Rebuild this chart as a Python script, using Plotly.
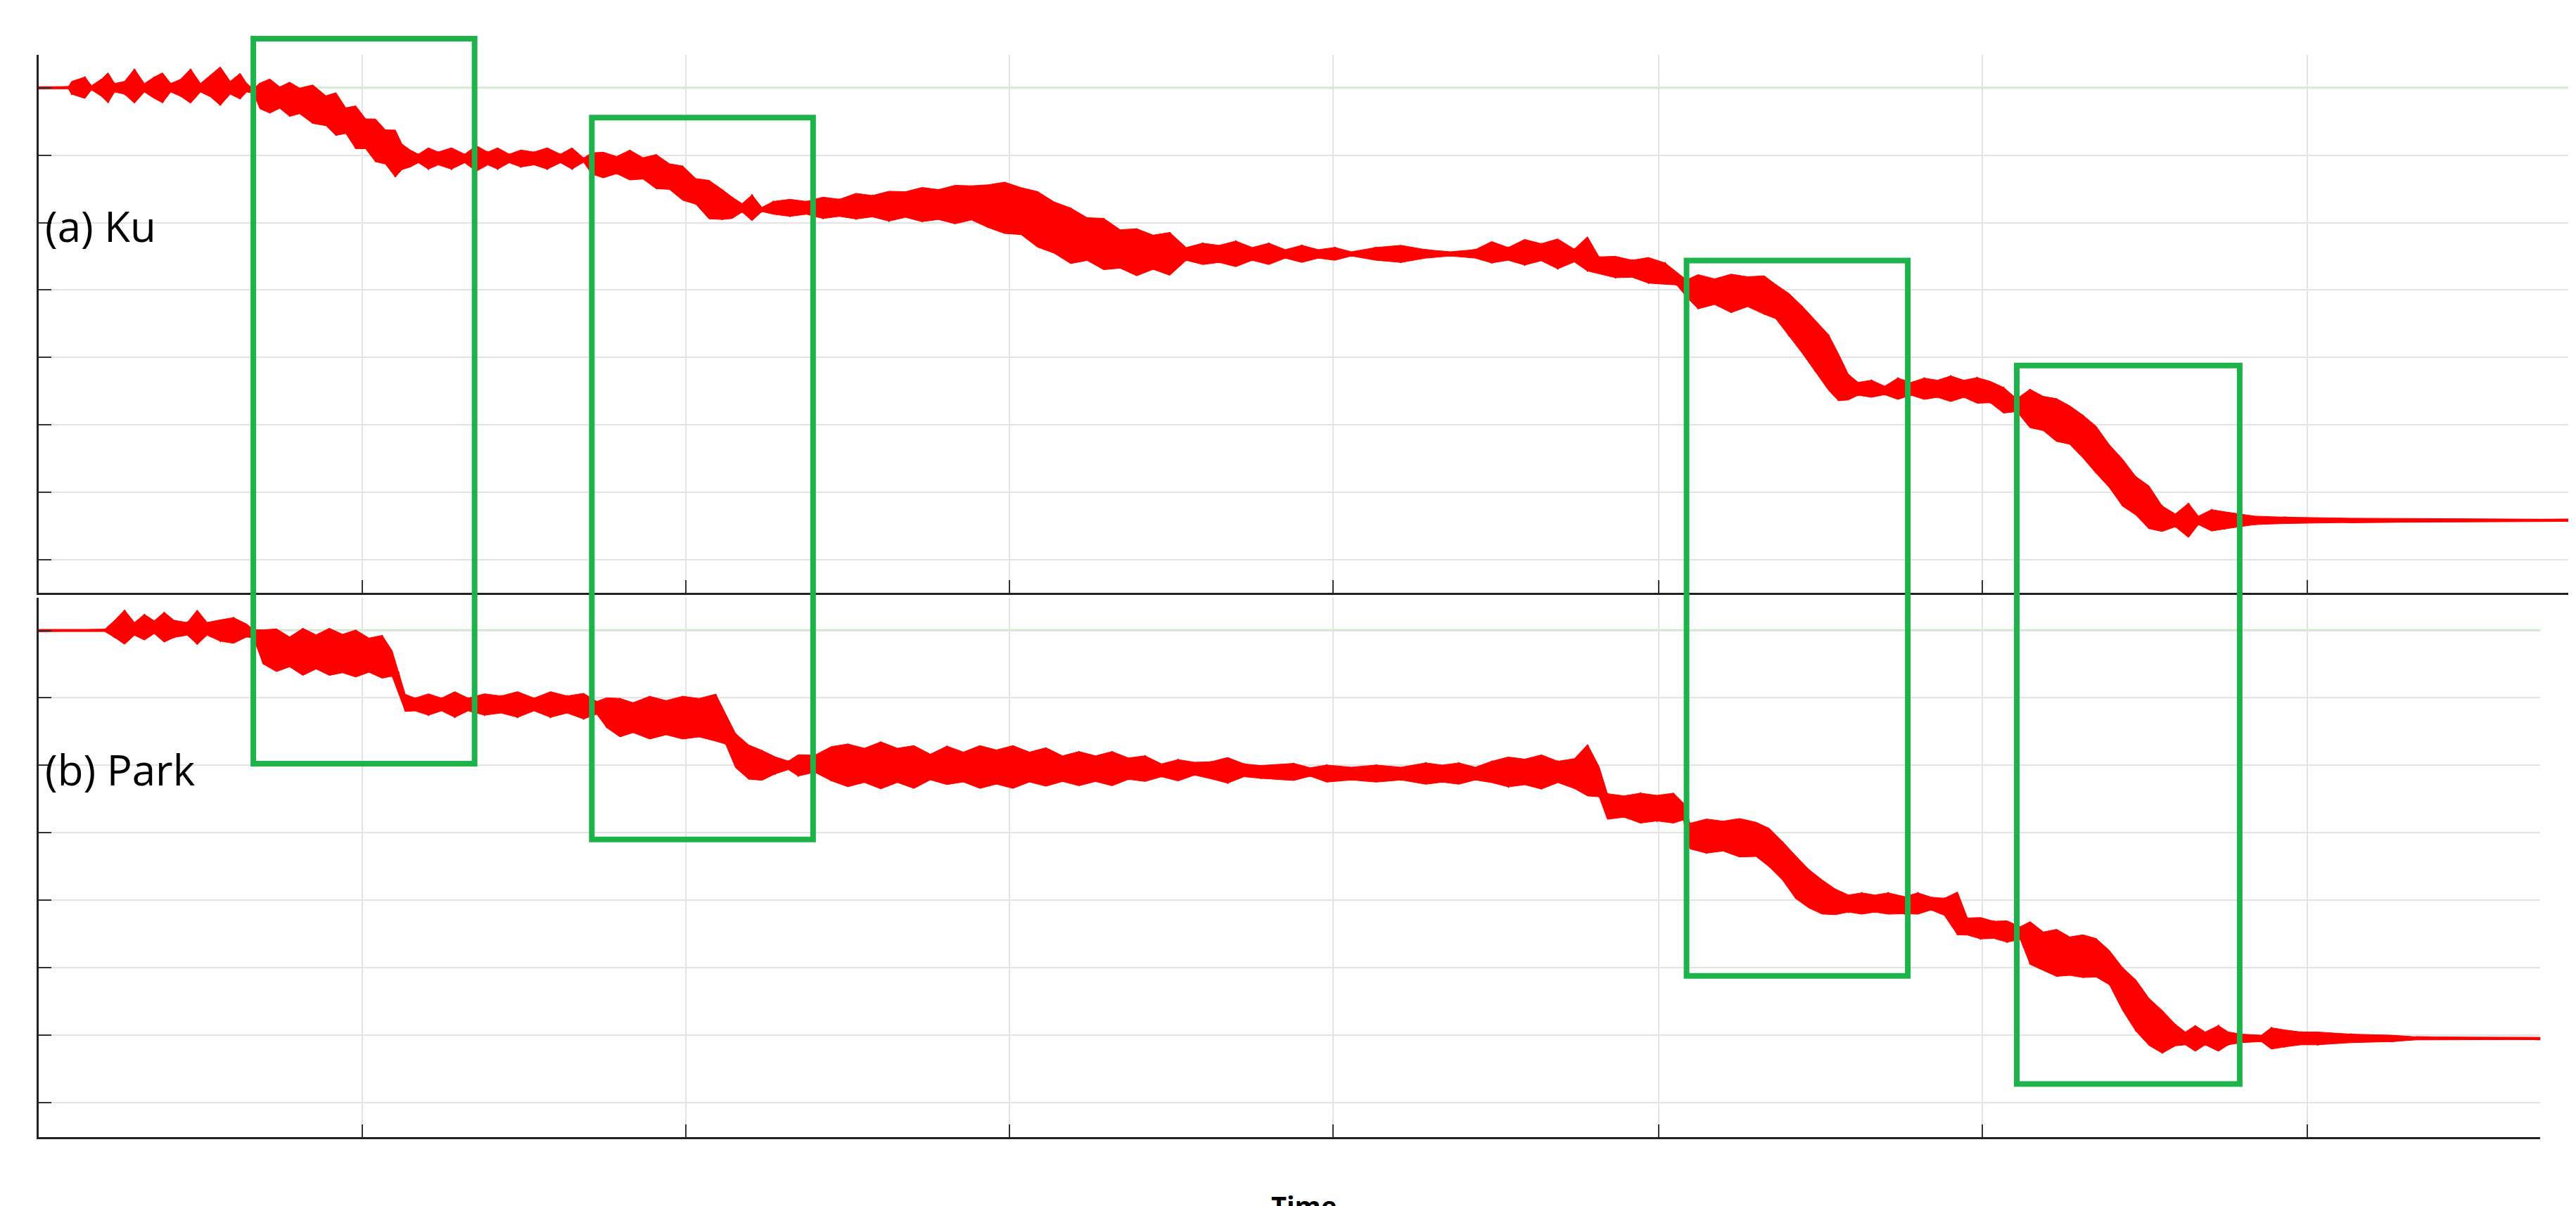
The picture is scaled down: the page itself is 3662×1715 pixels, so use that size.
import plotly.graph_objects as go

# Ku signal: time, centre level, oscillation half-amplitude (arbitrary units)
ku_t = [0, 18, 20, 28, 32, 38, 42, 46, 52, 58,
        64, 70, 75, 80, 86, 92, 98, 104, 110, 116,
        122, 126, 130, 134, 140, 146, 152, 158, 166, 174,
        180, 186, 192, 198, 204, 210, 216, 220, 225, 230,
        236, 242, 250, 258, 265, 272, 278, 285, 292, 300,
        308, 316, 323, 330, 335, 342, 350, 358, 366, 374,
        382, 390, 398, 406, 414, 420, 426, 432, 438, 445,
        455, 465, 475, 485, 495, 505, 515, 525, 535, 545,
        555, 565, 575, 585, 595, 605, 615, 625, 635, 645,
        655, 665, 675, 685, 695, 705, 715, 725, 735, 745,
        755, 765, 775, 785, 795, 810, 825, 840, 855, 870,
        880, 890, 900, 910, 920, 930, 938, 945, 955, 965,
        975, 985, 992, 998, 1005, 1015, 1025, 1035, 1045, 1052,
        1060, 1068, 1076, 1084, 1090, 1096, 1102, 1110, 1118, 1126,
        1134, 1142, 1150, 1158, 1166, 1174, 1182, 1190, 1198, 1206,
        1214, 1222, 1230, 1238, 1246, 1254, 1262, 1270, 1278, 1286,
        1294, 1302, 1308, 1316, 1324, 1332, 1342, 1360, 1400, 1532]
ku_c = [287, 287, 287, 287, 287, 287, 287, 287, 287, 288,
        287, 287, 287, 287, 287, 288, 287, 288, 288, 287,
        288, 287, 285, 282, 282, 281, 280, 279, 277, 273,
        271, 267, 263, 259, 255, 251, 247, 245, 244, 244,
        244, 244, 244, 244, 244, 244, 244, 244, 244, 244,
        244, 244, 244, 243, 241, 240, 240, 240, 238, 236,
        233, 229, 224, 219, 216, 214, 214, 214, 213, 214,
        214, 214, 214, 214, 215, 215, 215, 216, 216, 216,
        216, 217, 215, 214, 212, 207, 202, 197, 195, 192,
        189, 187, 187, 186, 186, 186, 186, 186, 186, 186,
        186, 186, 186, 186, 186, 186, 186, 186, 186, 186,
        187, 186, 187, 187, 186, 185, 186, 179, 178, 177,
        176, 174, 171, 165, 163, 163, 162, 163, 161, 157,
        149, 140, 130, 120, 111, 105, 104, 104, 103, 104,
        104, 104, 104, 104, 104, 103, 102, 97, 94, 92,
        89, 85, 82, 75, 67, 57, 47, 39, 32, 25,
        24, 24, 24, 24, 24, 24, 24, 24, 24, 24]
ku_a = [0.5, 0.5, 3, 5, 1, 4, 7, 2, 3, 8,
        2, 5, 7, 2, 4, 8, 2, 5, 9, 3,
        6, 2, 1, 6, 8, 5, 8, 6, 9, 7,
        10, 6, 10, 7, 10, 8, 11, 6, 4, 2,
        5, 3, 5, 2, 6, 3, 5, 2, 4, 3,
        5, 2, 5, 1, 5, 6, 4, 7, 5, 8,
        6, 8, 6, 9, 7, 5, 2, 6, 1, 3,
        4, 3, 5, 4, 6, 5, 7, 6, 8, 7,
        9, 8, 10, 12, 11, 13, 12, 13, 10, 12,
        9, 11, 8, 10, 3, 5, 4, 6, 3, 5,
        2, 4, 2, 3, 1, 3, 4, 2, 1, 2,
        5, 3, 6, 4, 7, 3, 8, 4, 5, 4,
        6, 5, 3, 4, 8, 6, 9, 7, 9, 8,
        10, 11, 12, 13, 11, 6, 3, 4, 2, 5,
        3, 5, 4, 6, 4, 6, 5, 6, 3, 9,
        8, 10, 9, 10, 11, 10, 11, 9, 10, 6,
        3, 8, 2, 5, 4, 3, 2, 1.5, 1, 0.5]

# Park signal
pk_t = [0, 40, 46, 52, 58, 64, 70, 76, 82, 90,
        96, 102, 110, 118, 126, 130, 136, 144, 152, 160,
        168, 176, 184, 192, 200, 208, 214, 218, 222, 228,
        236, 244, 252, 260, 270, 280, 290, 300, 310, 320,
        330, 338, 344, 352, 360, 370, 380, 390, 400, 410,
        416, 422, 430, 438, 446, 454, 460, 470, 480, 490,
        500, 510, 520, 530, 540, 550, 560, 570, 580, 590,
        600, 610, 620, 630, 640, 650, 660, 670, 680, 690,
        700, 710, 720, 730, 740, 760, 770, 780, 795, 810,
        825, 840, 850, 860, 870, 880, 890, 900, 910, 920,
        930, 938, 945, 950, 960, 970, 980, 990, 996, 1000,
        1010, 1020, 1030, 1040, 1048, 1056, 1064, 1072, 1080, 1088,
        1096, 1104, 1112, 1120, 1130, 1138, 1146, 1154, 1162, 1168,
        1176, 1184, 1192, 1200, 1206, 1214, 1222, 1230, 1238, 1246,
        1254, 1262, 1270, 1278, 1286, 1294, 1300, 1306, 1312, 1320,
        1326, 1334, 1346, 1352, 1360, 1370, 1380, 1400, 1425, 1440,
        1515]
pk_c = [287, 287, 288, 289, 288, 289, 289, 289, 288, 288,
        289, 288, 287, 287, 287, 285, 277, 275, 274, 274,
        274, 274, 273, 273, 272, 271, 267, 255, 243, 242,
        242, 242, 242, 242, 242, 242, 242, 242, 242, 242,
        241, 240, 237, 234, 234, 234, 234, 234, 234, 234,
        227, 214, 207, 205, 205, 205, 205, 206, 206, 205,
        205, 205, 205, 204, 204, 205, 204, 204, 204, 204,
        204, 204, 203, 203, 203, 203, 203, 203, 202, 202,
        203, 202, 202, 202, 201, 201, 201, 200, 200, 200,
        200, 200, 200, 200, 200, 201, 201, 201, 201, 201,
        200, 202, 195, 180, 180, 179, 179, 179, 177, 162,
        162, 162, 161, 160, 155, 147, 137, 130, 125, 122,
        121, 121, 121, 121, 120, 121, 121, 119, 115, 107,
        106, 105, 104, 103, 97, 92, 91, 89, 89, 88,
        82, 69, 59, 49, 43, 41, 39, 39, 39, 39,
        39, 39, 39, 39, 39, 39, 39, 39, 39, 39,
        39]
pk_a = [0.5, 0.5, 4, 8, 3, 6, 3, 7, 4, 3,
        8, 3, 5, 6, 3, 2, 8, 10, 7, 11,
        8, 11, 9, 11, 8, 10, 6, 5, 4, 3,
        5, 3, 6, 3, 5, 4, 6, 3, 6, 4,
        6, 3, 7, 9, 7, 10, 8, 10, 9, 11,
        7, 8, 8, 7, 4, 2, 5, 4, 8, 10,
        8, 11, 8, 10, 6, 9, 7, 10, 8, 10,
        7, 9, 6, 8, 6, 8, 5, 6, 3, 5,
        3, 4, 6, 3, 3, 4, 2, 4, 3, 4,
        3, 5, 4, 5, 3, 5, 7, 6, 8, 5,
        7, 12, 7, 6, 5, 7, 6, 7, 4, 6,
        8, 7, 9, 8, 9, 9, 10, 9, 8, 6,
        4, 5, 4, 5, 4, 5, 3, 4, 10, 4,
        5, 4, 5, 3, 10, 9, 11, 9, 10, 9,
        8, 10, 12, 11, 10, 5, 3, 6, 3, 6,
        3, 2, 1.5, 5, 4, 3, 3, 2, 1.5, 0.7,
        0.5]

grid_y = [0, 41, 82, 123, 164, 205, 246, 287]
grid_x = [196, 392, 588, 784, 981, 1177, 1374]

# highlighted windows: (t0, t1, top, bottom) in figure fraction
boxes = [(130, 264, 1.015, 0.345), (335, 469, 0.942, 0.275),
         (998, 1132, 0.81, 0.149), (1198, 1333, 0.713, 0.049)]

RED = "#ff0000"
fig = go.Figure()

def band(t, c, a, xa, ya):
    up = [ci + ai * 1.3 for ci, ai in zip(c, a)]
    lo = [ci - ai * 1.3 for ci, ai in zip(c, a)]
    fig.add_trace(go.Scatter(x=t, y=lo, mode="lines", line=dict(color=RED, width=1),
                             xaxis=xa, yaxis=ya, showlegend=False, hoverinfo="skip"))
    fig.add_trace(go.Scatter(x=t, y=up, mode="lines", line=dict(color=RED, width=1),
                             fill="tonexty", fillcolor=RED,
                             xaxis=xa, yaxis=ya, showlegend=False, hoverinfo="skip"))
    zig = [u if i % 2 else l for i, (u, l) in enumerate(zip(up, lo))]
    fig.add_trace(go.Scatter(x=t, y=zig, mode="lines", line=dict(color=RED, width=2),
                             xaxis=xa, yaxis=ya, showlegend=False, hoverinfo="skip"))
    fig.add_trace(go.Scatter(x=t, y=c, mode="lines", line=dict(color=RED, width=3),
                             xaxis=xa, yaxis=ya, showlegend=False, hoverinfo="skip"))

band(ku_t, ku_c, ku_a, "x", "y")
band(pk_t, pk_c, pk_a, "x2", "y2")

ax = dict(showticklabels=False, ticks="inside", ticklen=18, tickwidth=2, tickcolor="#333",
          showline=True, linecolor="#222", linewidth=3, gridcolor="#e3e3e3", gridwidth=2,
          zeroline=False, mirror=False)
fig.update_layout(
    width=3662, height=1715, paper_bgcolor="white", plot_bgcolor="white",
    margin=dict(l=47, r=19, t=70, b=106),
    xaxis=dict(ax, domain=[0, 1], range=[0, 1532], tickvals=grid_x, anchor="y"),
    yaxis=dict(ax, domain=[0.503, 1], range=[-20, 307], tickvals=grid_y, anchor="x"),
    xaxis2=dict(ax, domain=[0, 0.989], range=[0, 1515], tickvals=grid_x, anchor="y2"),
    yaxis2=dict(ax, domain=[0, 0.4985], range=[-21, 307], tickvals=grid_y, anchor="x2"),
    font=dict(family="Open Sans", color="black"),
)
for xr, yr, x1 in (("x", "y", 1532), ("x2", "y2", 1515)):
    fig.add_shape(type="line", xref=xr, yref=yr, x0=0, x1=x1, y0=287, y1=287,
                  line=dict(color="#b8f0b0", width=3), layer="below")
for t0, t1, top, bot in boxes:
    fig.add_shape(type="rect", xref="x", yref="paper", x0=t0, x1=t1, y0=bot, y1=top,
                  line=dict(color="#1db34a", width=8))
fig.add_annotation(text="(a) Ku", xref="paper", yref="paper", x=0.002, y=0.87,
                   xanchor="left", showarrow=False, font=dict(size=60))
fig.add_annotation(text="(b) Park", xref="paper", yref="paper", x=0.002, y=0.34,
                   xanchor="left", showarrow=False, font=dict(size=60))
fig.add_annotation(text="<b>Time</b>", xref="paper", yref="paper", x=0.5, y=-0.045,
                   yanchor="top", showarrow=False, font=dict(size=38))
fig.write_html("out.html")
